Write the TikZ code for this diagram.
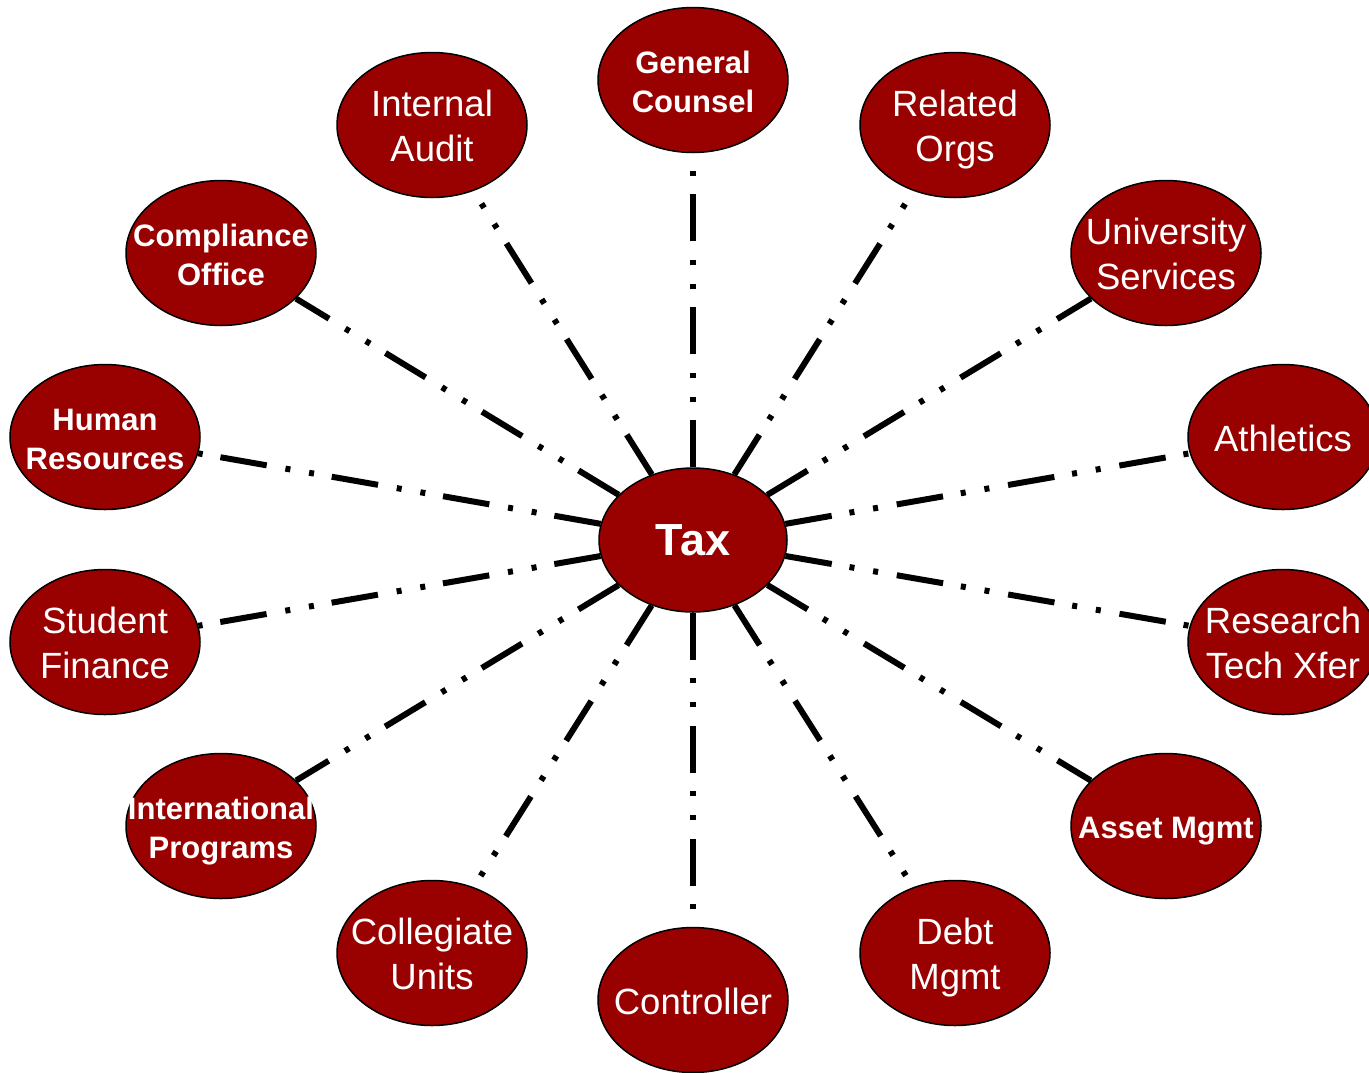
\documentclass[tikz,border=0pt]{standalone}
\usepackage{fontspec}
\setmainfont{Liberation Sans}
\usetikzlibrary{shapes.geometric}
\definecolor{unitred}{RGB}{153,0,0}
\newcommand{\ctxt}[1]{\makebox[0pt]{\raisebox{-5pt}[\height][\depth]{\begin{tabular}{@{}c@{}}#1\end{tabular}}}}
\tikzset{
  unit/.style={ellipse, draw=black, line width=1.5pt, fill=unitred, text=white,
    minimum width=190pt, minimum height=145pt, inner sep=0pt},
  reg/.style={unit, font=\fontsize{36.5}{45}\selectfont},
  bld/.style={unit, font=\fontsize{31}{39}\selectfont\bfseries},
  link/.style={line width=6pt, dash pattern=on 47pt off 18pt on 5pt off 19pt on 5pt off 19pt}
}
\begin{document}
\begin{tikzpicture}[x=1pt,y=-1pt]
\useasboundingbox (0,0) rectangle (1369,1072);
\node[unit, font=\fontsize{45}{54}\selectfont\bfseries, minimum width=188pt, minimum height=144pt] (tax) at (693,540) {\ctxt{Tax}};
\node[bld] (gc) at (693,80) {\ctxt{General\\Counsel}};
\node[reg] (ia) at (432,125) {\ctxt{Internal\\Audit}};
\node[reg] (ro) at (955,125) {\ctxt{Related\\Orgs}};
\node[bld] (co) at (221,253) {\ctxt{Compliance\\Office}};
\node[reg] (us) at (1166,253) {\ctxt{University\\Services}};
\node[bld] (hr) at (105,437) {\ctxt{Human\\Resources}};
\node[reg] (at) at (1283,437) {\ctxt{Athletics}};
\node[reg] (sf) at (105,642) {\ctxt{Student\\Finance}};
\node[reg] (rt) at (1283,642) {\ctxt{Research\\Tech Xfer}};
\node[bld] (ip) at (221,826) {\ctxt{International\\Programs}};
\node[bld] (am) at (1166,826) {\ctxt{Asset Mgmt}};
\node[reg] (cu) at (432,953) {\ctxt{Collegiate\\Units}};
\node[reg] (dm) at (955,953) {\ctxt{Debt\\Mgmt}};
\node[reg] (ct) at (693,1000) {\ctxt{Controller}};
\foreach \n in {gc,ia,ro,co,us,hr,at,sf,rt,ip,am,cu,dm,ct}
  \draw[link] (tax) -- (\n);
\end{tikzpicture}
\end{document}
